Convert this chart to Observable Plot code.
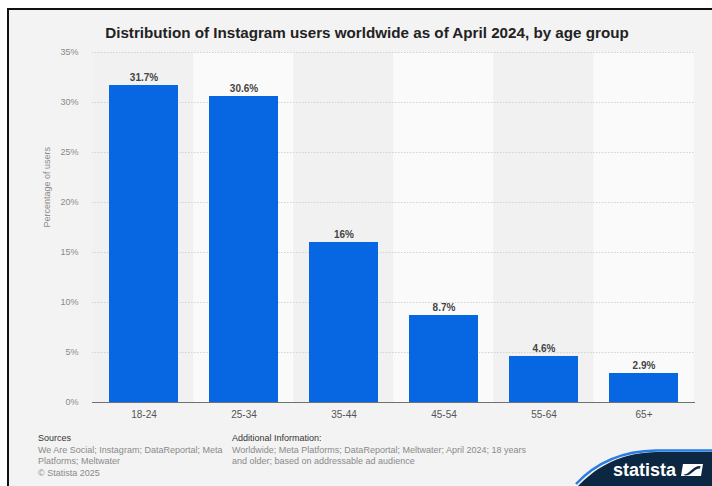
<!DOCTYPE html>
<html><head><meta charset="utf-8">
<script src="https://cdn.jsdelivr.net/npm/d3@7"></script>
<script src="https://cdn.jsdelivr.net/npm/@observablehq/plot@0.6"></script>
<style>
html,body{margin:0;padding:0;background:#fff;width:712px;height:486px;overflow:hidden;font-family:"Liberation Sans",Arial,sans-serif;}
#frame{position:absolute;left:7px;top:8px;width:705px;height:478px;background:#f3f3f3;border-left:2px solid #111;border-top:2px solid #111;box-sizing:border-box;}
#title{position:absolute;left:0;top:25px;width:734px;text-align:center;font-weight:bold;font-size:15.2px;line-height:16px;color:#222;white-space:nowrap;}
#chart{position:absolute;left:0;top:0;}
.foot{position:absolute;font-size:9px;line-height:11.5px;color:#8a8a8a;white-space:nowrap;}
.foot b{font-weight:normal;color:#333;}
#logo{position:absolute;left:572px;top:444px;}
</style></head>
<body>
<div id="frame"></div>
<div id="title">Distribution of Instagram users worldwide as of April 2024, by age group</div>
<div id="chart"></div>
<div class="foot" style="left:38px;top:433px;"><b>Sources</b><br>We Are Social; Instagram; DataReportal; Meta<br>Platforms; Meltwater<br>© Statista 2025</div>
<div class="foot" style="left:232px;top:433px;"><b>Additional Information:</b><br>Worldwide; Meta Platforms; DataReportal; Meltwater; April 2024; 18 years<br>and older; based on addressable ad audience</div>
<svg id="logo" width="140" height="42">
  <path d="M6,42 C20,28 42,9 84,8 L140,8 L140,42 Z" fill="#0c2742"/>
  <path d="M4,40 C18,25 42,7 84,6.5 L140,6.5" fill="none" stroke="#2a7de1" stroke-width="2.5"/>
  <text x="41" y="32" fill="#fff" font-weight="bold" font-size="18" font-family="Liberation Sans, Arial, sans-serif">statista</text>
  <path d="M111,20 L131,20 L129,32 L109,32 Z" fill="#fff"/>
  <path d="M111.5,30.5 C118,30.5 120,22 128.5,22 L128,24.5 C122,24.5 120,31.5 113,31.5 Z" fill="#0c2742"/>
</svg>
<script>
const ageGroups = ["18-24","25-34","35-44","45-54","55-64","65+"];
const shares = [31.7, 30.6, 16, 8.7, 4.6, 2.9];
const shareLabels = ["31.7%","30.6%","16%","8.7%","4.6%","2.9%"];
const yTicks = [0,5,10,15,20,25,30,35];
const yLabel = "Percentage of users";

const data = ageGroups.map((g,i)=>({group:g, share:shares[i], label:shareLabels[i], idx:i}));

const chart = Plot.plot({
  width:712, height:430,
  marginTop:52, marginBottom:28, marginLeft:92, marginRight:17,
  style:{background:"transparent", fontFamily:"Liberation Sans, Arial, sans-serif", fontSize:"9px", color:"#8a8a8a", overflow:"visible"},
  x:{domain:ageGroups, paddingInner:0.31, paddingOuter:0.155, label:null, axis:null},
  y:{domain:[0,35], label:null, axis:null},
  marks:[
    Plot.barY(data, {x:"group", y1:0, y2:35, fill:d=> d.idx%2===0?"#f1f1f1":"#fafafa", insetLeft:-15.7, insetRight:-15.7}),
    Plot.ruleY(yTicks, {stroke:"#d2d2d2", strokeDasharray:"1.5,1.5"}),
    Plot.barY(data, {x:"group", y:"share", fill:"#0767e3"}),
    Plot.ruleY([0], {stroke:"#707070", strokeWidth:1.2}),
    Plot.axisY({ticks:yTicks, tickSize:0, tickPadding:14, tickFormat:d=>d+"%", fill:"#8a8a8a", fontSize:9, label:null}),
    Plot.axisX({tickSize:0, tickPadding:8, fill:"#555", fontSize:10, label:null}),
    Plot.text(data, {x:"group", y:"share", text:"label", dy:-8, fontWeight:"bold", fontSize:10, fill:"#444"}),
    Plot.text([yLabel], {frameAnchor:"left", dx:-45, rotate:-90, fill:"#8a8a8a", fontSize:9})
  ]
});
document.getElementById("chart").appendChild(chart);
</script>
</body></html>
